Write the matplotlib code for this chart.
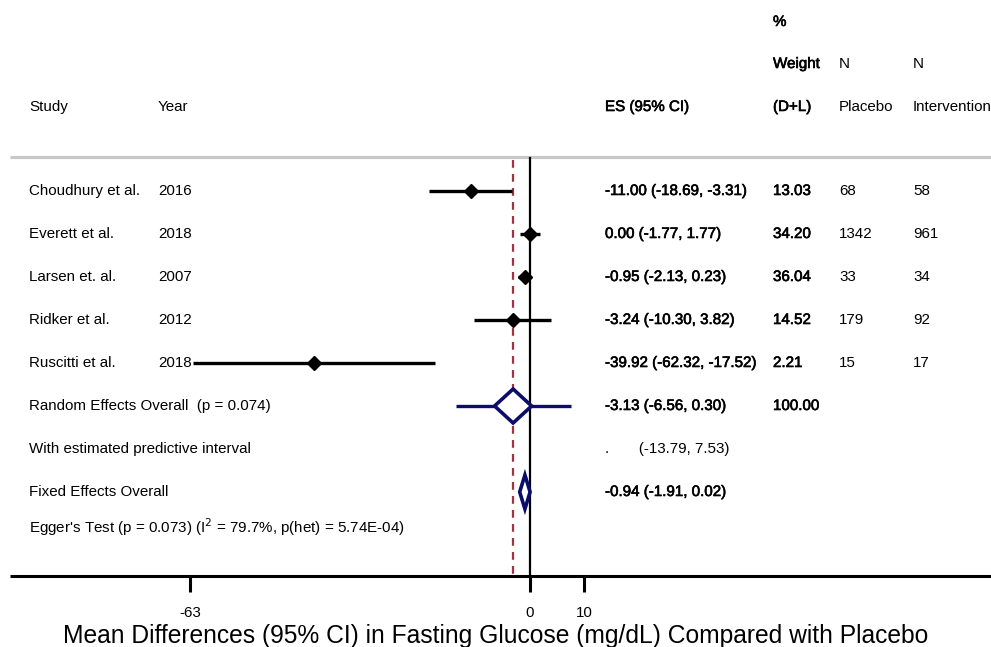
import matplotlib.pyplot as plt
import matplotlib.transforms as mtransforms
import matplotlib.patheffects as pe

plt.rcParams['font.family'] = ['Liberation Sans', 'DejaVu Sans']

# study data
studies = ['Choudhury et al.', 'Everett et al.', 'Larsen et. al.', 'Ridker et al.', 'Ruscitti et al.']
years = ['2016', '2018', '2007', '2012', '2018']
es = [-11.00, 0.00, -0.95, -3.24, -39.92]
ci_low = [-18.69, -1.77, -2.13, -10.30, -62.32]
ci_high = [-3.31, 1.77, 0.23, 3.82, -17.52]
weights = ['13.03', '34.20', '36.04', '14.52', '2.21']
n_placebo = ['68', '1342', '33', '179', '15']
n_interv = ['58', '961', '34', '92', '17']

# pooled estimates
re_es, re_low, re_high = -3.13, -6.56, 0.30
pi_low, pi_high = -13.79, 7.53
fe_es, fe_low, fe_high = -0.94, -1.91, 0.02

ticks = [-63, 0, 10]

W, H = 991, 647
fig = plt.figure(figsize=(W / 100, H / 100), dpi=100)
ax = fig.add_axes([0, 0, 1, 1])
ax.axis('off')
# x: effect size units, 0 at pixel 530, 5.4 px per unit; y: pixel rows
ax.set_xlim(-530 / 5.4, (W - 530) / 5.4)
ax.set_ylim(H, 0)

tr = mtransforms.blended_transform_factory(ax.transAxes, ax.transData)
fs = 10.9
semibold = [pe.withStroke(linewidth=0.45, foreground='black')]

def txt(px, y, s, bold=False, **kw):
    t = ax.text(px / W, y, s, transform=tr, fontsize=fs, va='center', ha='left', **kw)
    if bold:
        t.set_path_effects(semibold)

# header
txt(773, 22, '%', bold=True)
txt(773, 64, 'Weight', bold=True)
txt(839, 64, 'N')
txt(913, 64, 'N')
txt(29, 107, 'Study')
txt(158, 107, 'Year')
txt(605, 107, 'ES (95% CI)', bold=True)
txt(773, 107, '(D+L)', bold=True)
txt(839, 107, 'Placebo')
txt(913, 107, 'Intervention')

ax.plot([10 / W, 1], [157, 157], transform=tr, color='#c8c8c8', lw=2.3, solid_capstyle='butt')

row0, step = 191, 43
rows = [row0 + i * step for i in range(len(studies))]
y_re = row0 + 5 * step
y_pi = row0 + 6 * step
y_fe = row0 + 7 * step
y_egger = 527
y_axis = 576

# reference lines
ax.plot([0, 0], [158, y_axis], color='black', lw=1.6)
ax.plot([re_es, re_es], [160, y_axis], color='#a33340', lw=1.6, dashes=(3.5, 2.8))

for i, y in enumerate(rows):
    ax.plot([ci_low[i], ci_high[i]], [y, y], color='black', lw=2.4, solid_capstyle='butt')
    ax.plot(es[i], y, marker='D', color='black', markersize=7.5)
    txt(29, y, studies[i])
    txt(158, y, years[i])
    txt(605, y, '%.2f (%.2f, %.2f)' % (es[i], ci_low[i], ci_high[i]), bold=True)
    txt(773, y, weights[i], bold=True)
    txt(839, y, n_placebo[i])
    txt(913, y, n_interv[i])

navy = '#0c0c6a'
# random effects with predictive interval
ax.plot([pi_low, pi_high], [y_re, y_re], color=navy, lw=2.4, solid_capstyle='butt')
ax.fill([re_low, re_es, re_high, re_es], [y_re, y_re - 17, y_re, y_re + 17],
        facecolor='white', edgecolor=navy, lw=2.6, zorder=3)
# fixed effects
ax.fill([fe_low, fe_es, fe_high, fe_es], [y_fe, y_fe - 17, y_fe, y_fe + 17],
        facecolor='white', edgecolor=navy, lw=2.6, zorder=3)

txt(29, y_re, 'Random Effects Overall  (p = 0.074)')
txt(605, y_re, '%.2f (%.2f, %.2f)' % (re_es, re_low, re_high), bold=True)
txt(773, y_re, '100.00', bold=True)
txt(29, y_pi, 'With estimated predictive interval')
txt(605, y_pi, '.       (%.2f, %.2f)' % (pi_low, pi_high))
txt(29, y_fe, 'Fixed Effects Overall')
txt(605, y_fe, '%.2f (%.2f, %.2f)' % (fe_es, fe_low, fe_high), bold=True)
txt(29, y_egger, "Egger's Test (p = 0.073) (I$^2$ = 79.7%, p(het) = 5.74E-04)")

# x axis
ax.plot([10 / W, 1], [y_axis, y_axis], transform=tr, color='black', lw=2.2, solid_capstyle='butt')
for t in ticks:
    ax.plot([t, t], [y_axis, y_axis + 16], color='black', lw=2.2, solid_capstyle='butt')
    ax.text(t, 613, str(t), ha='center', va='center', fontsize=fs)
ax.text(0.5, 636, 'Mean Differences (95% CI) in Fasting Glucose (mg/dL) Compared with Placebo',
        transform=tr, ha='center', va='center', fontsize=17.7)

fig.savefig('out.png', dpi=100)
